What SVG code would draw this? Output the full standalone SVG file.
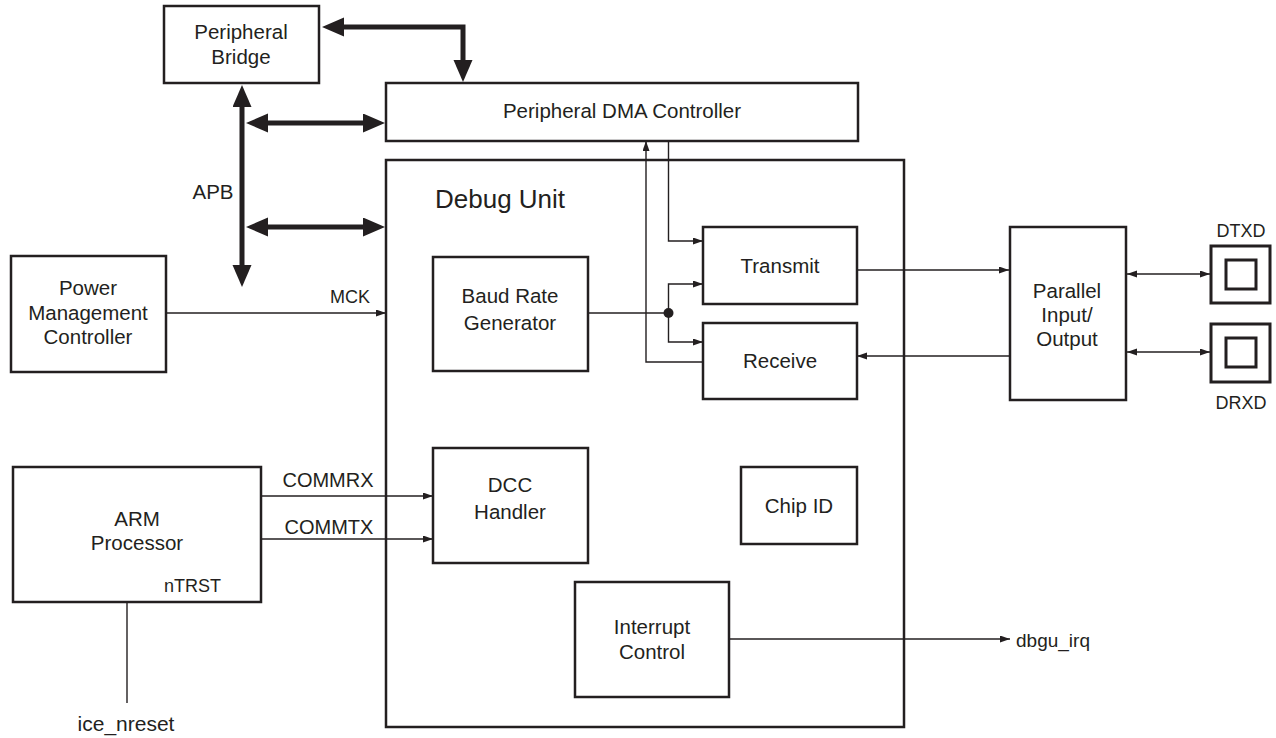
<svg xmlns="http://www.w3.org/2000/svg" width="1276" height="738" viewBox="0 0 1276 738">
<style>
.box{fill:#fff;stroke:#231f20;stroke-width:2.5}
.pad{fill:none;stroke:#231f20;stroke-width:3}
.t{font-family:"Liberation Sans",Arial,sans-serif;font-size:20.5px;fill:#231f20;text-anchor:middle}
.s{font-family:"Liberation Sans",Arial,sans-serif;font-size:18px;fill:#231f20}
.thin{fill:none;stroke:#231f20;stroke-width:1.4}
.thick{fill:none;stroke:#231f20;stroke-width:5}
</style>
<defs>
<marker id="a" markerUnits="userSpaceOnUse" markerWidth="11" markerHeight="8" refX="10" refY="3.5" orient="auto-start-reverse"><path d="M0,0 L10,3.5 L0,7 z" fill="#231f20"/></marker>
<marker id="A" markerUnits="userSpaceOnUse" markerWidth="23" markerHeight="20" refX="12" refY="9.5" orient="auto-start-reverse"><path d="M0,0 L22,9.5 L0,19 z" fill="#231f20"/></marker>
</defs>
<rect width="1276" height="738" fill="#fff"/>

<g id="debug-unit"><rect class="box" x="386" y="160" width="518" height="567"/>
<text x="435" y="208" style="font-family:'Liberation Sans',Arial,sans-serif;font-size:26px;fill:#231f20">Debug Unit</text></g>

<g id="connectors">
<path class="thick" d="M332,27 H463 V72" marker-start="url(#A)" marker-end="url(#A)"/>
<path class="thick" d="M242,95 V277" marker-start="url(#A)" marker-end="url(#A)"/>
<path class="thick" d="M256,123 H375" marker-start="url(#A)" marker-end="url(#A)"/>
<path class="thick" d="M256,227 H375" marker-start="url(#A)" marker-end="url(#A)"/>
<path class="thin" d="M166,313 H386" marker-end="url(#a)"/>
<path class="thin" d="M588,313 H668.5"/>
<circle cx="668.5" cy="313" r="5" fill="#231f20"/>
<path class="thin" d="M668.5,313 V284 H703" marker-end="url(#a)"/>
<path class="thin" d="M668.5,313 V342 H703" marker-end="url(#a)"/>
<path class="thin" d="M668.5,141 V241 H703" marker-end="url(#a)"/>
<path class="thin" d="M703,362 H646 V141" marker-end="url(#a)"/>
<path class="thin" d="M857,270 H1009" marker-end="url(#a)"/>
<path class="thin" d="M1009,356 H857" marker-end="url(#a)"/>
<path class="thin" d="M1127,274 H1210" marker-start="url(#a)" marker-end="url(#a)"/>
<path class="thin" d="M1127,352 H1210" marker-start="url(#a)" marker-end="url(#a)"/>
<path class="thin" d="M261,496 H433" marker-end="url(#a)"/>
<path class="thin" d="M261,539 H433" marker-end="url(#a)"/>
<path class="thin" d="M127,602 V703"/>
<path class="thin" d="M729,639 H1010" marker-end="url(#a)"/>
</g>

<g id="peripheral-bridge"><rect class="box" x="164" y="6" width="155" height="77"/>
<text class="t" x="241" y="39">Peripheral</text><text class="t" x="241" y="64">Bridge</text></g>

<g id="pdc"><rect class="box" x="386" y="83" width="472" height="58"/>
<text class="t" x="622" y="118">Peripheral DMA Controller</text></g>

<g id="baud"><rect class="box" x="433" y="257" width="155" height="114"/>
<text class="t" x="510" y="303">Baud Rate</text><text class="t" x="510" y="330">Generator</text></g>

<g id="transmit"><rect class="box" x="703" y="227" width="154" height="77"/>
<text class="t" x="780" y="273">Transmit</text></g>

<g id="receive"><rect class="box" x="703" y="323" width="154" height="76"/>
<text class="t" x="780" y="368">Receive</text></g>

<g id="dcc"><rect class="box" x="433" y="448" width="155" height="115"/>
<text class="t" x="510" y="492">DCC</text><text class="t" x="510" y="519">Handler</text></g>

<g id="chipid"><rect class="box" x="741" y="467" width="116" height="77"/>
<text class="t" x="799" y="513">Chip ID</text></g>

<g id="interrupt"><rect class="box" x="575" y="582" width="154" height="115"/>
<text class="t" x="652" y="634">Interrupt</text><text class="t" x="652" y="659">Control</text></g>

<g id="pio"><rect class="box" x="1010" y="227" width="116" height="173"/>
<text class="t" x="1067" y="298">Parallel</text><text class="t" x="1067" y="322">Input/</text><text class="t" x="1067" y="346">Output</text></g>

<g id="dtxd"><rect class="pad" x="1211" y="246" width="59" height="57"/><rect class="pad" x="1226" y="260" width="30" height="29"/>
<text class="s" x="1241" y="237" text-anchor="middle">DTXD</text></g>

<g id="drxd"><rect class="pad" x="1211" y="324" width="59" height="58"/><rect class="pad" x="1226" y="338" width="30" height="29"/>
<text class="s" x="1241" y="409" text-anchor="middle">DRXD</text></g>

<g id="pmc"><rect class="box" x="11" y="256" width="155" height="116"/>
<text class="t" x="88" y="295">Power</text><text class="t" x="88" y="320">Management</text><text class="t" x="88" y="344">Controller</text></g>

<g id="arm"><rect class="box" x="13" y="467" width="248" height="135"/>
<text class="t" x="137" y="526">ARM</text><text class="t" x="137" y="550">Processor</text>
<text class="s" x="221" y="592" text-anchor="end">nTRST</text></g>

<g id="labels">
<text class="s" x="370" y="303" text-anchor="end">MCK</text>
<text class="t" x="213" y="199">APB</text>
<text class="t" x="328" y="487" style="font-size:20px">COMMRX</text>
<text class="t" x="329" y="534" style="font-size:20px">COMMTX</text>
<text class="t" x="126" y="731" style="font-size:21px">ice_nreset</text>
<text class="t" x="1016" y="647" style="text-anchor:start;font-size:19px">dbgu_irq</text>
</g>
</svg>
